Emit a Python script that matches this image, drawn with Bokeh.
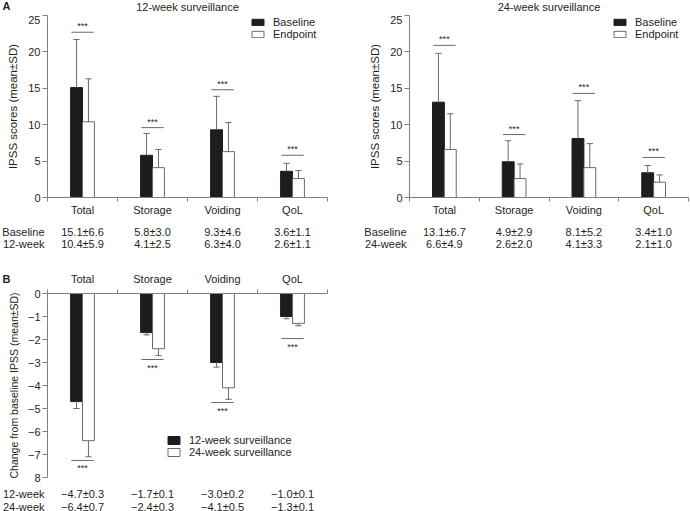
from bokeh.plotting import figure
from bokeh.models import Range1d, FixedTicker, Legend, LegendItem
from bokeh.layouts import column, row
from bokeh.embed import file_html
from bokeh.resources import INLINE
from bokeh.core.properties import value

categories = ["Total", "Storage", "Voiding", "QoL"]

# Panel A, 12-week surveillance
a12_baseline_mean = [15.1, 5.8, 9.3, 3.6]
a12_baseline_sd = [6.6, 3.0, 4.6, 1.1]
a12_endpoint_mean = [10.4, 4.1, 6.3, 2.6]
a12_endpoint_sd = [5.9, 2.5, 4.0, 1.1]
a12_sig_level = [22.7, 9.6, 14.8, 5.8]

# Panel A, 24-week surveillance
a24_baseline_mean = [13.1, 4.9, 8.1, 3.4]
a24_baseline_sd = [6.7, 2.9, 5.2, 1.0]
a24_endpoint_mean = [6.6, 2.6, 4.1, 2.1]
a24_endpoint_sd = [4.9, 2.0, 3.3, 1.0]
a24_sig_level = [20.9, 8.65, 14.3, 5.5]

# Panel B, change from baseline
b_12week_mean = [-4.7, -1.7, -3.0, -1.0]
b_12week_sd = [0.3, 0.1, 0.2, 0.1]
b_24week_mean = [-6.4, -2.4, -4.1, -1.3]
b_24week_sd = [0.7, 0.3, 0.5, 0.1]
b_sig_level = [-7.26, -2.87, -4.74, -1.96]

a_y_ticks = [0, 5, 10, 15, 20, 25]
b_y_ticks = [0, -1, -2, -3, -4, -5, -6, -7, -8]
b_y_tick_labels = ["0", "−1", "−2", "−3", "−4", "−5", "−6", "−7", "8"]

FONT = "Liberation Sans"
AX = "#808080"
TXT = "#231f20"
BLACK = "#1f1c1d"
GRAY = "#6a6a6a"
BAR_W = 0.17
CAP = 0.045
SIG_HALF = 0.16
CENTERS = [i + 0.5 for i in range(4)]
FS = "11px"


def fmt(m, s):
    return f"{m:.1f}±{s:.1f}".replace("-", "−")


def text_fig(height, left, frame_w, right):
    ppx = frame_w / 4.0
    p = figure(width=left + frame_w + right, height=height,
               x_range=Range1d(-left / ppx, 4 + right / ppx),
               y_range=Range1d(height, 0),
               x_axis_location=None, y_axis_location=None, min_border=0,
               output_backend="svg", toolbar_location=None)
    p.outline_line_color = None
    p.xgrid.visible = False
    p.ygrid.visible = False
    return p, ppx


def add_text(p, xs, ys, texts, align="center", size=FS, style="normal"):
    p.text(x=xs, y=ys, text=texts, text_align=align, text_baseline="middle",
           text_font=value(FONT), text_font_size=value(size),
           text_font_style=style, text_color=TXT)


def table_fig(height, left, frame_w, right, rows):
    p, ppx = text_fig(height, left, frame_w, right)
    for y, name, ms, ss in rows:
        add_text(p, CENTERS, [y] * 4, [fmt(m, s) for m, s in zip(ms, ss)])
        add_text(p, [-3 / ppx], [y], [name], align="right")
    return p


def chart(yr, frame_w, frame_h, borders, above, yticks, ytick_labels, ylabel, ylabel_size,
          ylabel_standoff, m1, s1, m2, s2, sig, names, legend_loc, glyph_h, spacing):
    top, right, bottom, left = borders
    p = figure(x_range=Range1d(0, 4), y_range=Range1d(*yr),
               frame_width=frame_w, frame_height=frame_h,
               min_border_top=top, min_border_right=right,
               min_border_bottom=bottom, min_border_left=left,
               output_backend="svg", toolbar_location=None,
               x_axis_location="above" if above else "below")
    p.outline_line_color = None
    p.xgrid.visible = False
    p.ygrid.visible = False

    xa = p.xaxis[0]
    xa.ticker = FixedTicker(ticks=CENTERS, minor_ticks=[0, 1, 2, 3, 4])
    xa.major_tick_line_color = None
    xa.major_tick_in = 0
    xa.major_tick_out = 0
    xa.minor_tick_line_color = AX
    xa.minor_tick_in = 0
    xa.minor_tick_out = 4
    xa.axis_line_color = AX
    if above:
        xa.major_label_overrides = {c: "" for c in CENTERS}
        xa.major_label_text_font_size = "0px"
        xa.major_label_standoff = 0
    else:
        xa.major_label_overrides = {c: cat for c, cat in zip(CENTERS, categories)}
        xa.major_label_text_font = FONT
        xa.major_label_text_font_size = FS
        xa.major_label_text_color = TXT
        xa.major_label_standoff = 2

    ya = p.yaxis[0]
    ya.ticker = FixedTicker(ticks=yticks, minor_ticks=[])
    if ytick_labels is not None:
        ya.major_label_overrides = {t: l for t, l in zip(yticks, ytick_labels)}
    ya.major_tick_in = 0
    ya.major_tick_out = 5
    ya.major_tick_line_color = AX
    ya.minor_tick_line_color = None
    ya.axis_line_color = AX
    ya.major_label_text_font = FONT
    ya.major_label_text_font_size = FS
    ya.major_label_text_color = TXT
    ya.major_label_standoff = 2
    ya.axis_label = ylabel
    ya.axis_label_text_font = FONT
    ya.axis_label_text_font_size = ylabel_size
    ya.axis_label_text_font_style = "normal"
    ya.axis_label_text_color = TXT
    ya.axis_label_standoff = ylabel_standoff

    sign = 1 if yr[0] == 0 else -1
    x1 = [c - BAR_W / 2 for c in CENTERS]
    x2 = [c + BAR_W / 2 for c in CENTERS]
    if sign > 0:
        r1 = p.vbar(x=x1, top=m1, bottom=0, width=BAR_W, fill_color=BLACK, line_color=BLACK)
        r2 = p.vbar(x=x2, top=m2, bottom=0, width=BAR_W, fill_color="white", line_color=GRAY)
    else:
        r1 = p.vbar(x=x1, top=0, bottom=m1, width=BAR_W, fill_color=BLACK, line_color=BLACK)
        r2 = p.vbar(x=x2, top=0, bottom=m2, width=BAR_W, fill_color="white", line_color=GRAY)

    for xs, ms, ss in ((x1, m1, s1), (x2, m2, s2)):
        tips = [m + sign * s for m, s in zip(ms, ss)]
        p.segment(x0=xs, y0=ms, x1=xs, y1=tips, line_color=GRAY, line_width=1)
        p.segment(x0=[x - CAP for x in xs], y0=tips, x1=[x + CAP for x in xs], y1=tips,
                  line_color=GRAY, line_width=1)

    p.segment(x0=[c - SIG_HALF for c in CENTERS], y0=sig,
              x1=[c + SIG_HALF for c in CENTERS], y1=sig, line_color=GRAY, line_width=1)
    p.text(x=CENTERS, y=sig, text=["***"] * 4, text_align="center",
           text_baseline="bottom" if sign > 0 else "top",
           y_offset=-1 if sign > 0 else 3,
           text_font=value(FONT), text_font_size=value("9px"), text_color=TXT)

    leg = Legend(items=[LegendItem(label=names[0], renderers=[r1]),
                        LegendItem(label=names[1], renderers=[r2])],
                 location=legend_loc, border_line_color=None, background_fill_alpha=0,
                 padding=0, margin=0, spacing=spacing, glyph_width=15, glyph_height=glyph_h,
                 label_height=10, label_standoff=8,
                 label_text_font=FONT, label_text_font_size=FS,
                 label_text_color=TXT, label_text_baseline="middle")
    p.add_layout(leg)
    return p


# ---- Panel A ----
hA1, ppxA1 = text_fig(15, 47, 280, 18)
add_text(hA1, [2], [6], ["12-week surveillance"])
add_text(hA1, [-45 / ppxA1], [5.5], ["A"], align="left", style="bold")
hA2, _ = text_fig(15, 64, 279, 2)
add_text(hA2, [2], [6], ["24-week surveillance"])

cA1 = chart((0, 25), 280, 182, (0, 18, 20, 47), False, a_y_ticks, None,
            "IPSS scores (mean±SD)", "11.5px", 6,
            a12_baseline_mean, a12_baseline_sd, a12_endpoint_mean, a12_endpoint_sd,
            a12_sig_level, ("Baseline", "Endpoint"), (203, 157), 8, -3)
cA2 = chart((0, 25), 279, 182, (0, 2, 20, 64), False, a_y_ticks, None,
            "IPSS scores (mean±SD)", "11.5px", 6,
            a24_baseline_mean, a24_baseline_sd, a24_endpoint_mean, a24_endpoint_sd,
            a24_sig_level, ("Baseline", "Endpoint"), (203, 157), 8, -3)

tA1 = table_fig(48, 47, 280, 18, [(13, "Baseline", a12_baseline_mean, a12_baseline_sd),
                                  (25, "12-week", a12_endpoint_mean, a12_endpoint_sd)])
tA2 = table_fig(48, 64, 279, 2, [(13, "Baseline", a24_baseline_mean, a24_baseline_sd),
                                 (25, "24-week", a24_endpoint_mean, a24_endpoint_sd)])

# ---- Panel B ----
hB, ppxB = text_fig(23, 47, 280, 18)
add_text(hB, CENTERS, [12] * 4, categories)
add_text(hB, [-45 / ppxB], [12], ["B"], align="left", style="bold")

cB = chart((-8, 0), 280, 184, (4, 18, 6, 47), True, b_y_ticks, b_y_tick_labels,
           "Change from baseline IPSS (mean±SD)", "10.5px", 5,
           b_12week_mean, b_12week_sd, b_24week_mean, b_24week_sd,
           b_sig_level, ("12-week surveillance", "24-week surveillance"), (119, 19), 10, -3)

tB = table_fig(29, 47, 280, 18, [(10, "12-week", b_12week_mean, b_12week_sd),
                                 (23, "24-week", b_24week_mean, b_24week_sd)])

layout = column(row(hA1, hA2), row(cA1, cA2), row(tA1, tA2), row(hB), row(cB), row(tB))
open("out.html", "w").write(file_html(layout, INLINE))
